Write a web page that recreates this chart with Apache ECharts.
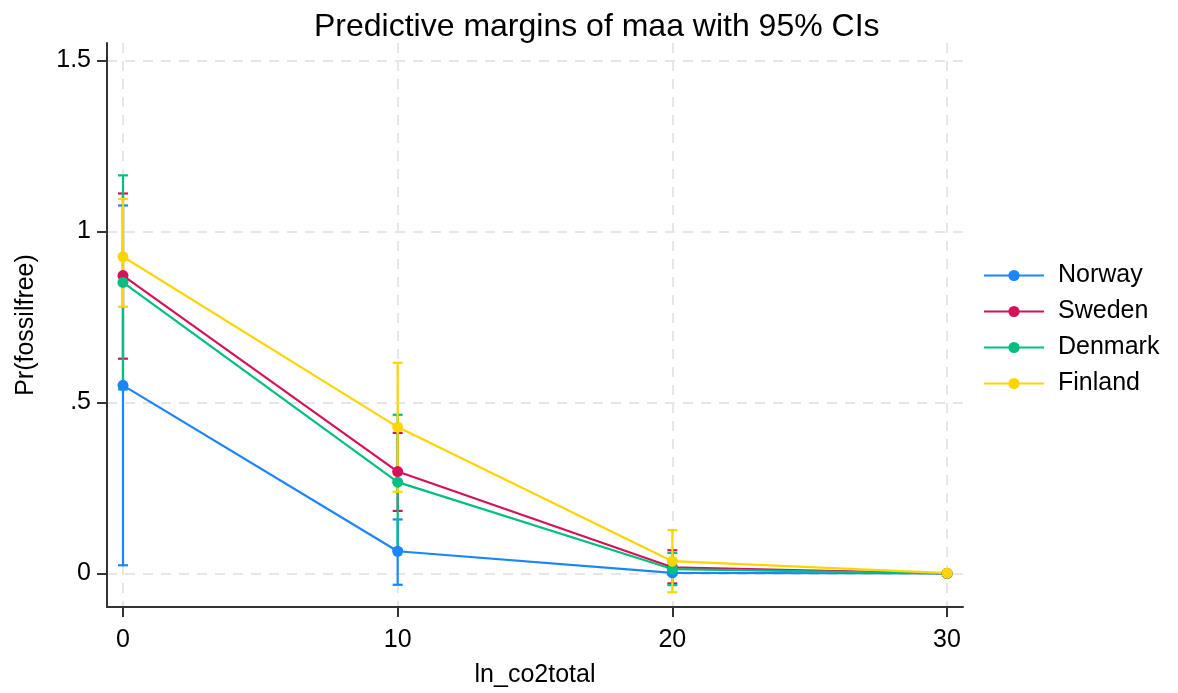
<!DOCTYPE html>
<html>
<head>
<meta charset="utf-8">
<script src="https://cdn.jsdelivr.net/npm/echarts@6/dist/echarts.min.js"></script>
<style>html,body{margin:0;padding:0;background:#fff;}#c{width:1178px;height:693px;}</style>
</head>
<body>
<div id="c"></div>
<script>
const xValues = [0, 10, 20, 30];
const xTicks = [0, 10, 20, 30];
const yTicks = [0, 0.5, 1, 1.5];
const seriesNames = ['Norway', 'Sweden', 'Denmark', 'Finland'];
const norway = [0.550, 0.065, 0.002, 0.000];
const norwayLo = [0.024, -0.033, -0.003, -0.001];
const norwayHi = [1.076, 0.158, 0.007, 0.001];
const sweden = [0.871, 0.298, 0.018, 0.000];
const swedenLo = [0.628, 0.183, -0.029, -0.001];
const swedenHi = [1.111, 0.411, 0.068, 0.001];
const denmark = [0.851, 0.267, 0.013, 0.000];
const denmarkLo = [0.538, 0.070, -0.034, -0.001];
const denmarkHi = [1.164, 0.464, 0.060, 0.001];
const finland = [0.926, 0.428, 0.036, 0.001];
const finlandLo = [0.780, 0.239, -0.055, -0.002];
const finlandHi = [1.095, 0.616, 0.127, 0.003];
const colors = ['#1a85ff', '#d41159', '#00bf7f', '#ffd400'];

const FONT = '"Liberation Sans", Arial, sans-serif';
const est = [norway, sweden, denmark, finland];
const lo = [norwayLo, swedenLo, denmarkLo, finlandLo];
const hi = [norwayHi, swedenHi, denmarkHi, finlandHi];

function fmtY(v) {
  if (v === 0) return '0';
  let s = String(v);
  if (s.startsWith('0.')) s = s.slice(1);
  return s;
}

const series = [];
seriesNames.forEach((name, i) => {
  series.push({
    type: 'custom',
    name: name + ' CI',
    z: 2,
    silent: true,
    data: xValues.map((x, j) => [x, lo[i][j], hi[i][j]]),
    renderItem: function (params, api) {
      const x = api.value(0);
      const p1 = api.coord([x, api.value(1)]);
      const p2 = api.coord([x, api.value(2)]);
      const hw = 5;
      const style = { stroke: colors[i], lineWidth: 2.2, fill: null };
      return {
        type: 'group',
        children: [
          { type: 'line', shape: { x1: p1[0], y1: p1[1], x2: p2[0], y2: p2[1] }, style: style },
          { type: 'line', shape: { x1: p1[0] - hw, y1: p1[1], x2: p1[0] + hw, y2: p1[1] }, style: style },
          { type: 'line', shape: { x1: p2[0] - hw, y1: p2[1], x2: p2[0] + hw, y2: p2[1] }, style: style }
        ]
      };
    }
  });
});
seriesNames.forEach((name, i) => {
  series.push({
    type: 'line',
    name: name,
    z: 3,
    data: xValues.map((x, j) => [x, est[i][j]]),
    symbol: 'circle',
    symbolSize: 11,
    showSymbol: true,
    lineStyle: { color: colors[i], width: 2.2 },
    itemStyle: { color: colors[i] },
    emphasis: { disabled: true }
  });
});

const chart = echarts.init(document.getElementById('c'), null, { renderer: 'canvas' });
chart.setOption({
  animation: false,
  backgroundColor: '#ffffff',
  textStyle: { fontFamily: FONT },
  title: {
    text: 'Predictive margins of maa with 95% CIs',
    left: 314,
    top: 11,
    padding: 0,
    textStyle: { fontFamily: FONT, fontSize: 32, fontWeight: 'normal', color: '#000' }
  },
  legend: {
    data: seriesNames,
    orient: 'vertical',
    left: 983,
    top: 263,
    padding: 0,
    itemWidth: 60,
    itemHeight: 14,
    itemGap: 11,
    textStyle: { fontFamily: FONT, fontSize: 25, color: '#000', padding: [0, 0, 0, 9] }
  },
  grid: { left: 107, right: 215, top: 43, bottom: 85, containLabel: false },
  xAxis: {
    type: 'value',
    min: -0.582,
    max: 30.582,
    name: 'ln_co2total',
    nameLocation: 'middle',
    nameGap: 56,
    nameTextStyle: { fontFamily: FONT, fontSize: 25, color: '#000' },
    axisLine: { onZero: false, lineStyle: { color: '#333', width: 2 } },
    axisTick: { show: true, length: 10, lineStyle: { color: '#333', width: 2 }, customValues: xTicks },
    axisLabel: { customValues: xTicks, fontFamily: FONT, fontSize: 25, color: '#000', margin: 21 },
    splitLine: { show: true, lineStyle: { color: '#e6e6e6', width: 2, type: [10, 8] } }
  },
  yAxis: {
    type: 'value',
    min: -0.098,
    max: 1.551,
    name: 'Pr(fossilfree)',
    nameLocation: 'middle',
    nameGap: 68,
    nameRotate: 90,
    nameTextStyle: { fontFamily: FONT, fontSize: 25, color: '#000' },
    axisLine: { show: true, onZero: false, lineStyle: { color: '#333', width: 2 } },
    axisTick: { show: true, length: 10, lineStyle: { color: '#333', width: 2 }, customValues: yTicks },
    axisLabel: { customValues: yTicks, fontFamily: FONT, fontSize: 25, color: '#000', margin: 16, formatter: fmtY },
    splitLine: { show: true, lineStyle: { color: '#e6e6e6', width: 2, type: [10, 8] } }
  },
  series: series
});
</script>
</body>
</html>
